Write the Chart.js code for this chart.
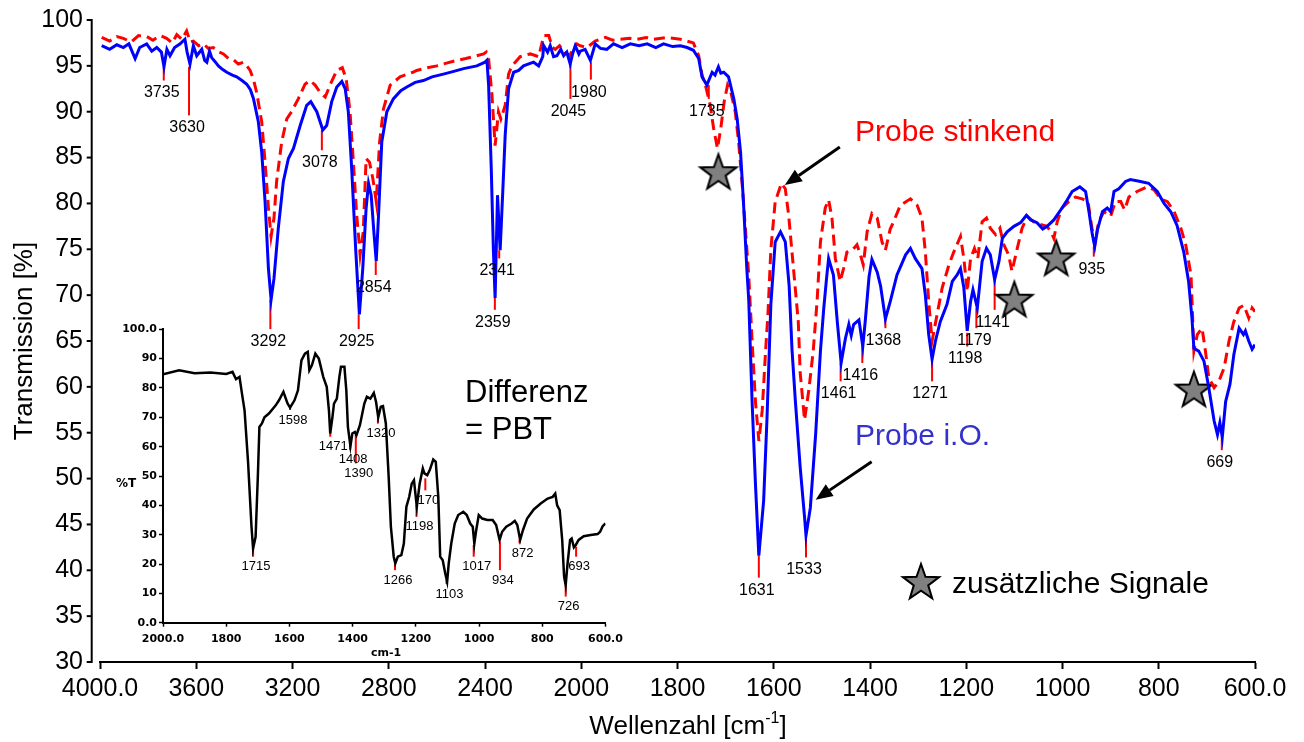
<!DOCTYPE html>
<html>
<head>
<meta charset="utf-8">
<title>IR-Spektren Probe i.O. / Probe stinkend</title>
<script src="https://cdn.jsdelivr.net/npm/chart.js@4.4.1/dist/chart.umd.min.js"></script>
<style>
  html, body { margin: 0; padding: 0; background: #fff; }
  #wrap { position: relative; width: 1304px; height: 742px; }
  #mainChart { position: absolute; left: 0; top: 0; }
  #insetChart { position: absolute; left: 60px; top: 300px; }
</style>
</head>
<body>
<div id="wrap">
  <canvas id="mainChart" width="1304" height="742"></canvas>
  <canvas id="insetChart" width="580" height="370"></canvas>
</div>
<script>
// x axis of the main plot: 4000..2000 at 400 per step, then 2000..600 at 200 per step
const xTickLabels = ["4000.0", "3600", "3200", "2800", "2400", "2000", "1800", "1600", "1400", "1200", "1000", "800", "600.0"];

// Probe i.O. (blue)
const waveBlue = [3993, 3960, 3930, 3903, 3880, 3854, 3835, 3806, 3785, 3764, 3745, 3734, 3722, 3709, 3690, 3667, 3647, 3638, 3626, 3612,
  3598, 3577, 3565, 3556, 3545, 3536, 3520, 3508, 3490, 3473, 3450, 3432, 3410, 3390, 3375, 3362, 3342, 3328, 3314, 3300,
  3289, 3277, 3259, 3238, 3217, 3196, 3168, 3141, 3124, 3099, 3074, 3058, 3037, 3016, 2995, 2981, 2968, 2954, 2937, 2922,
  2908, 2894, 2884, 2873, 2861, 2852, 2843, 2829, 2808, 2781, 2750, 2725, 2690, 2656, 2620, 2573, 2530, 2489, 2434, 2400,
  2392, 2385, 2374, 2365, 2358, 2348, 2337, 2325, 2316, 2302, 2281, 2260, 2240, 2198, 2177, 2160, 2156, 2140, 2129, 2115,
  2101, 2085, 2073, 2060, 2046, 2035, 2025, 2010, 2004, 1992, 1981, 1971, 1960, 1947, 1933, 1915, 1898, 1880, 1863, 1845,
  1829, 1810, 1794, 1780, 1767, 1756, 1749, 1739, 1728, 1722, 1715, 1710, 1704, 1694, 1683, 1676, 1669, 1663, 1656, 1652,
  1645, 1638, 1631, 1621, 1614, 1606, 1597, 1586, 1576, 1568, 1562, 1555, 1545, 1536, 1533, 1524, 1513, 1503, 1496, 1490,
  1486, 1476, 1468, 1460, 1451, 1444, 1439, 1434, 1423, 1415, 1410, 1402, 1396, 1385, 1378, 1368, 1358, 1344, 1326, 1316,
  1306, 1292, 1285, 1278, 1271, 1264, 1254, 1240, 1229, 1219, 1212, 1205, 1198, 1191, 1186, 1177, 1167, 1158, 1150, 1141,
  1132, 1125, 1115, 1101, 1087, 1075, 1066, 1053, 1041, 1032, 1018, 1001, 990, 980, 964, 952, 945, 938, 933, 927,
  917, 907, 900, 893, 883, 869, 859, 838, 821, 803, 789, 775, 762, 748, 738, 731, 727, 717, 706, 696,
  685, 678, 673, 668, 661, 652, 644, 633, 624, 620, 613, 606, 600];
const transBlue = [97.2, 96.8, 97.3, 97.0, 97.4, 95.8, 97.0, 97.4, 96.6, 97.0, 96.5, 94.9, 96.8, 96.1, 97.0, 97.4, 97.9, 96.5, 95.2, 97.2,
  96.1, 96.8, 95.6, 95.4, 96.6, 95.9, 95.4, 95.0, 94.6, 94.3, 94.0, 93.8, 93.4, 93.0, 92.4, 91.4, 88.9, 85.6, 80.2, 72.9,
  69.5, 71.8, 77.3, 82.4, 84.9, 86.0, 88.5, 90.7, 91.1, 90.0, 88.0, 88.5, 91.1, 92.7, 93.3, 92.5, 90.0, 83.8, 74.8, 67.9,
  72.9, 79.5, 82.2, 80.9, 76.6, 73.7, 78.4, 86.7, 90.0, 91.4, 92.3, 92.7, 93.2, 93.4, 93.8, 94.1, 94.4, 94.7, 95.0, 95.4,
  95.6, 92.9, 83.8, 74.8, 69.7, 80.9, 74.9, 82.0, 87.5, 92.5, 94.3, 94.5, 95.0, 95.4, 95.0, 96.0, 97.2, 96.5, 97.2, 96.0,
  96.1, 96.8, 96.1, 96.5, 95.2, 96.4, 97.2, 96.3, 96.6, 96.8, 95.6, 97.4, 96.9, 96.8, 97.4, 97.0, 97.4, 97.2, 97.4, 97.0,
  97.4, 97.1, 97.2, 97.0, 96.7, 95.8, 93.8, 92.9, 94.3, 94.0, 94.9, 94.2, 94.3, 93.8, 91.4, 89.2, 85.6, 80.2, 72.9, 69.5,
  58.4, 49.4, 41.6, 47.6, 56.6, 69.0, 75.8, 76.9, 75.8, 71.0, 64.0, 58.4, 51.2, 45.8, 43.8, 46.8, 54.8, 63.9, 68.6, 72.0,
  74.0, 72.2, 67.1, 62.6, 65.3, 66.8, 65.6, 66.8, 67.3, 64.4, 67.1, 72.0, 73.9, 72.5, 71.0, 67.4, 69.3, 72.2, 74.4, 75.1,
  74.0, 72.9, 70.0, 65.7, 63.0, 65.0, 67.1, 69.0, 71.5, 72.2, 72.9, 70.8, 66.1, 69.3, 70.6, 68.6, 73.7, 75.1, 74.4, 71.7,
  73.7, 76.2, 76.9, 77.5, 77.9, 78.7, 78.2, 77.9, 77.2, 77.5, 78.2, 79.5, 80.4, 81.3, 81.8, 81.3, 79.1, 76.6, 75.3, 77.2,
  79.1, 79.5, 79.1, 81.3, 81.6, 82.4, 82.6, 82.4, 82.2, 81.3, 80.0, 79.1, 77.6, 74.7, 71.5, 67.5, 64.2, 63.9, 62.8, 59.9,
  56.3, 54.8, 56.1, 54.5, 58.4, 60.3, 63.5, 66.4, 65.7, 66.1, 65.0, 64.1, 64.6];

// Probe stinkend (red, dashed)
const waveRed = [3993, 3960, 3930, 3903, 3870, 3840, 3806, 3780, 3750, 3723, 3700, 3681, 3660, 3640, 3625, 3612, 3590, 3570, 3550, 3529,
  3505, 3487, 3466, 3446, 3425, 3404, 3390, 3376, 3362, 3349, 3328, 3314, 3300, 3289, 3277, 3266, 3245, 3224, 3204, 3176,
  3148, 3127, 3106, 3085, 3064, 3044, 3016, 2993, 2977, 2961, 2947, 2933, 2919, 2906, 2894, 2880, 2866, 2852, 2838, 2822,
  2794, 2753, 2700, 2684, 2640, 2600, 2560, 2517, 2480, 2448, 2406, 2395, 2385, 2371, 2358, 2344, 2334, 2316, 2302, 2288,
  2254, 2212, 2177, 2156, 2135, 2120, 2108, 2090, 2073, 2049, 2030, 2018, 2005, 1988, 1971, 1950, 1935, 1919, 1900, 1884,
  1865, 1850, 1822, 1794, 1767, 1756, 1749, 1740, 1732, 1725, 1717, 1710, 1703, 1696, 1689, 1680, 1673, 1666, 1659, 1652,
  1645, 1638, 1631, 1624, 1617, 1612, 1606, 1597, 1584, 1576, 1569, 1559, 1549, 1545, 1536, 1527, 1518, 1510, 1503, 1493,
  1486, 1479, 1472, 1462, 1455, 1448, 1437, 1427, 1420, 1414, 1406, 1396, 1385, 1375, 1368, 1358, 1351, 1337, 1316, 1302,
  1292, 1285, 1278, 1271, 1262, 1250, 1236, 1226, 1212, 1205, 1198, 1191, 1183, 1176, 1167, 1158, 1150, 1139, 1130, 1122,
  1112, 1105, 1094, 1084, 1073, 1060, 1046, 1032, 1023, 1018, 1011, 1001, 987, 973, 959, 947, 940, 933, 925, 914,
  900, 890, 879, 871, 862, 845, 824, 810, 796, 782, 768, 754, 744, 733, 730, 727, 720, 710, 703, 696,
  685, 675, 664, 654, 644, 633, 623, 613, 606, 600];
const transRed = [98.1, 97.7, 98.2, 98.0, 97.6, 98.3, 98.2, 97.8, 98.3, 98.0, 97.5, 98.4, 97.9, 98.8, 97.6, 97.7, 97.2, 97.4, 96.9, 97.0,
  96.5, 96.3, 95.8, 95.7, 95.2, 95.4, 95.0, 94.5, 93.5, 92.1, 88.9, 84.5, 79.5, 76.4, 78.4, 82.4, 86.7, 89.2, 90.0, 91.4,
  93.0, 93.4, 92.9, 92.1, 91.6, 92.9, 94.5, 94.8, 93.6, 90.0, 84.5, 78.7, 74.4, 76.9, 84.9, 84.5, 82.7, 80.2, 86.7, 90.3,
  92.9, 93.8, 94.3, 94.5, 94.8, 95.0, 95.3, 95.6, 95.8, 96.0, 96.3, 96.5, 95.8, 91.8, 86.3, 90.0, 89.2, 90.7, 94.1, 95.0,
  96.0, 96.3, 96.0, 98.3, 98.3, 97.0, 96.8, 97.2, 96.6, 96.1, 97.0, 97.4, 97.2, 97.0, 97.7, 98.1, 97.8, 97.9, 98.0, 97.9,
  98.1, 97.9, 98.1, 97.9, 97.5, 96.1, 94.0, 92.5, 90.7, 88.2, 86.0, 88.2, 91.1, 92.9, 92.1, 90.0, 86.7, 82.4, 77.3, 72.2,
  65.0, 58.4, 54.1, 57.4, 63.9, 68.0, 75.0, 80.2, 82.2, 81.6, 78.7, 72.9, 67.1, 61.5, 56.4, 59.7, 63.9, 69.3, 75.8, 79.5,
  80.4, 78.4, 74.0, 71.5, 72.9, 74.7, 74.9, 75.5, 74.4, 73.3, 76.9, 78.9, 78.4, 75.8, 74.9, 77.2, 78.0, 79.8, 80.5, 79.8,
  78.4, 74.7, 69.3, 65.0, 67.5, 70.8, 73.3, 74.7, 76.4, 74.0, 70.4, 74.0, 75.1, 74.0, 78.0, 78.4, 77.3, 76.6, 77.3, 75.5,
  74.4, 72.6, 75.1, 77.3, 78.6, 78.0, 77.7, 77.5, 76.8, 76.2, 78.0, 79.5, 80.2, 80.7, 80.5, 80.2, 77.7, 75.5, 78.0, 79.1,
  78.6, 80.2, 80.2, 79.3, 80.7, 81.3, 81.8, 81.5, 80.5, 80.2, 79.1, 77.3, 75.5, 72.2, 68.2, 63.9, 65.7, 66.4, 63.9, 61.0,
  59.9, 60.6, 62.1, 65.0, 67.1, 68.6, 68.9, 67.5, 68.6, 68.2];

// peak marks of the main plot (line from top to bottom value, label below)
const mainPeaks = [3735, 3630, 3292, 3078, 2925, 2854, 2359, 2341, 2045, 1980, 1735, 1631, 1533, 1461, 1416, 1368, 1271, 1198, 1179, 1141, 935, 669];
const mainPeakTop = [94.9, 94.9, 69.5, 88.0, 67.9, 73.7, 69.7, 74.9, 95.2, 95.4, 92.9, 41.6, 43.8, 62.6, 64.4, 67.5, 62.8, 65.9, 68.6, 71.7, 75.3, 54.5];
const mainPeakBottom = [93.4, 89.6, 66.3, 85.8, 66.3, 72.2, 68.4, 74.0, 91.4, 93.5, 91.4, 39.2, 41.4, 60.6, 62.6, 66.4, 60.6, 64.4, 66.4, 68.4, 74.2, 53.1];

// additional signals (stars)
const starWave = [1715, 1100, 1013, 727];
const starTrans = [83.4, 69.5, 74.0, 59.7];

// inset: Differenz = PBT
const wavePBT = [2000, 1949, 1900, 1850, 1800, 1780, 1769, 1758, 1750, 1742, 1731, 1720, 1715, 1707, 1700, 1695, 1687, 1679, 1665, 1644,
  1633, 1619, 1606, 1598, 1584, 1573, 1562, 1551, 1542, 1537, 1529, 1518, 1507, 1493, 1482, 1475, 1471, 1464, 1459, 1450,
  1442, 1437, 1426, 1420, 1415, 1407, 1401, 1393, 1388, 1377, 1363, 1355, 1344, 1333, 1326, 1319, 1311, 1304, 1295, 1286,
  1279, 1270, 1265, 1257, 1246, 1238, 1230, 1221, 1213, 1206, 1197, 1188, 1178, 1173, 1164, 1156, 1145, 1137, 1129, 1123,
  1115, 1107, 1101, 1096, 1088, 1077, 1066, 1050, 1039, 1028, 1020, 1015, 1009, 1001, 990, 974, 957, 946, 935, 927,
  914, 897, 887, 879, 870, 861, 848, 827, 805, 783, 767, 759, 753, 745, 737, 731, 726, 720, 712, 707,
  700, 694, 685, 669, 647, 625, 617, 609, 600];
const transPBT = [84.7, 86.0, 85.0, 85.3, 84.8, 85.5, 83.0, 83.8, 78.0, 72.4, 55.0, 32.7, 25.3, 29.3, 49.7, 66.7, 67.9, 70.0, 71.3, 74.0,
  75.8, 78.7, 74.7, 73.3, 75.8, 79.2, 89.4, 91.7, 92.3, 86.0, 87.7, 91.7, 90.0, 83.8, 80.4, 72.4, 64.5, 70.0, 74.7, 76.4,
  83.8, 87.2, 87.2, 79.2, 66.7, 60.2, 64.5, 65.0, 63.9, 67.3, 74.7, 77.0, 76.4, 78.3, 75.3, 70.0, 73.6, 73.8, 67.9, 49.7,
  32.7, 22.5, 20.2, 22.5, 23.0, 27.0, 39.5, 42.9, 47.4, 48.6, 39.5, 47.4, 52.6, 50.9, 50.3, 52.0, 55.6, 54.8, 42.9, 22.5,
  21.3, 16.8, 14.0, 20.2, 27.0, 33.8, 36.7, 37.8, 36.7, 33.8, 32.7, 27.0, 31.6, 36.7, 35.5, 35.0, 35.0, 33.3, 28.2, 31.0,
  32.7, 33.8, 34.7, 33.3, 28.2, 31.6, 35.5, 38.6, 40.6, 42.3, 42.9, 44.0, 40.0, 38.4, 28.2, 15.7, 12.8, 20.2, 28.2, 28.7,
  25.7, 26.5, 28.2, 29.5, 29.9, 30.2, 31.0, 32.9, 33.8];

const insetXTicks = [2000, 1800, 1600, 1400, 1200, 1000, 800, 600];
const insetXTickLabels = ["2000.0", "1800", "1600", "1400", "1200", "1000", "800", "600.0"];
const insetPeaks = [1715, 1598, 1471, 1408, 1390, 1320, 1266, 1198, 1170, 1103, 1017, 934, 872, 726, 693];
const insetPeakTop = [25.4, 74.2, 65.1, 60.6, 64.0, 70.0, 20.2, 40.1, 49.2, 14.6, 26.5, 27.6, 28.4, 12.5, 25.9];
const insetPeakBottom = [22.5, 72.5, 63.4, 58.9, 54.3, 67.9, 17.9, 36.1, 45.1, 13.2, 22.5, 17.9, 27.0, 8.9, 22.5];
const insetPeakLabels = ["1715", "1598", "1471", "1408", "1390", "1320", "1266", "1198", "170", "1103", "1017", "934", "872", "726", "693"];

const FONT = "'Liberation Sans', Arial, sans-serif";
Chart.defaults.font.family = FONT;
Chart.defaults.color = "#000";

// wavenumber -> position on the split x axis
function toPos(w) {
  return w >= 2000 ? (4000 - w) / 400 : 5 + (2000 - w) / 200;
}

function toPoints(waves, values, mapX) {
  return waves.map((w, i) => ({ x: mapX ? mapX(w) : w, y: values[i] }));
}

function starPath(ctx, cx, cy, R, r) {
  ctx.beginPath();
  for (let i = 0; i < 10; i++) {
    let rad = i % 2 == 0 ? R : r;
    let a = -Math.PI / 2 + (i * Math.PI) / 5;
    let px = cx + rad * Math.cos(a);
    let py = cy + rad * Math.sin(a);
    if (i == 0) ctx.moveTo(px, py);
    else ctx.lineTo(px, py);
  }
  ctx.closePath();
}

// star marker used as point style
let starImg = document.createElement("canvas");
starImg.width = 44;
starImg.height = 44;
let sctx = starImg.getContext("2d");
starPath(sctx, 22, 23, 19, 7.6);
sctx.fillStyle = "#808080";
sctx.fill();
sctx.lineWidth = 2;
sctx.lineJoin = "miter";
sctx.strokeStyle = "#000";
sctx.stroke();

function arrow(ctx, x1, y1, x2, y2) {
  let ang = Math.atan2(y2 - y1, x2 - x1);
  let len = 17, half = 7;
  let bx = x2 - len * Math.cos(ang);
  let by = y2 - len * Math.sin(ang);
  ctx.save();
  ctx.strokeStyle = "#000";
  ctx.fillStyle = "#000";
  ctx.lineWidth = 3;
  ctx.beginPath();
  ctx.moveTo(x1, y1);
  ctx.lineTo(bx, by);
  ctx.stroke();
  ctx.beginPath();
  ctx.moveTo(x2, y2);
  ctx.lineTo(bx + half * Math.sin(ang), by - half * Math.cos(ang));
  ctx.lineTo(bx - half * Math.sin(ang), by + half * Math.cos(ang));
  ctx.closePath();
  ctx.fill();
  ctx.restore();
}

const spectrumDecor = {
  id: "spectrumDecor",
  beforeDatasetsDraw(chart) {
    const { ctx, scales: { x, y } } = chart;
    ctx.save();
    ctx.strokeStyle = "#ff0000";
    ctx.lineWidth = 2;
    mainPeaks.forEach((w, i) => {
      let px = x.getPixelForValue(toPos(w));
      ctx.beginPath();
      ctx.moveTo(px, y.getPixelForValue(mainPeakTop[i]));
      ctx.lineTo(px, y.getPixelForValue(mainPeakBottom[i]));
      ctx.stroke();
    });
    ctx.restore();
  },
  afterDraw(chart) {
    const { ctx, scales: { x, y } } = chart;
    ctx.save();

    // y axis sits a bit left of the plot, like in the original
    let ax = 91.7;
    ctx.strokeStyle = "#000";
    ctx.lineWidth = 2;
    ctx.beginPath();
    ctx.moveTo(ax, y.getPixelForValue(100) - 1);
    ctx.lineTo(ax, y.getPixelForValue(30) + 1);
    ctx.stroke();
    y.ticks.forEach((t) => {
      let py = y.getPixelForValue(t.value);
      ctx.beginPath();
      ctx.moveTo(ax - 5, py);
      ctx.lineTo(ax, py);
      ctx.stroke();
    });

    // peak labels
    ctx.fillStyle = "#000";
    ctx.font = "16px " + FONT;
    ctx.textAlign = "center";
    ctx.textBaseline = "middle";
    mainPeaks.forEach((w, i) => {
      let px = x.getPixelForValue(toPos(w));
      let py = y.getPixelForValue(mainPeakBottom[i]);
      ctx.fillText(String(w), px - 2, py + 12.5);
    });

    // axis titles
    ctx.font = "26px " + FONT;
    ctx.save();
    ctx.translate(25, (y.top + y.bottom) / 2);
    ctx.rotate(-Math.PI / 2);
    ctx.fillText("Transmission [%]", 0, 0);
    ctx.restore();

    ctx.textAlign = "left";
    ctx.textBaseline = "alphabetic";
    let t1 = "Wellenzahl [cm", t2 = "-1", t3 = "]";
    ctx.font = "26px " + FONT;
    let w1 = ctx.measureText(t1).width, w3 = ctx.measureText(t3).width;
    ctx.font = "16px " + FONT;
    let w2 = ctx.measureText(t2).width;
    let sx = 688 - (w1 + w2 + w3) / 2;
    ctx.font = "26px " + FONT;
    ctx.fillText(t1, sx, 734);
    ctx.font = "16px " + FONT;
    ctx.fillText(t2, sx + w1, 723);
    ctx.font = "26px " + FONT;
    ctx.fillText(t3, sx + w1 + w2, 734);

    // annotations
    ctx.textBaseline = "middle";
    ctx.font = "30px " + FONT;
    ctx.fillStyle = "#ff0000";
    ctx.fillText("Probe stinkend", 855, 133);
    ctx.fillStyle = "#3333cc";
    ctx.fillText("Probe i.O.", 855, 437);
    ctx.fillStyle = "#000";
    ctx.fillText("zusätzliche Signale", 952, 585);
    ctx.font = "31px " + FONT;
    ctx.fillText("Differenz", 465, 393);
    ctx.fillText("= PBT", 465, 430);

    ctx.drawImage(starImg, 921 - 22, 583 - 23);

    // arrows to the two curves
    let tip1x = x.getPixelForValue(toPos(1577)), tip1y = y.getPixelForValue(82);
    arrow(ctx, tip1x + 55, tip1y - 38, tip1x, tip1y);
    let tip2x = x.getPixelForValue(toPos(1513)), tip2y = y.getPixelForValue(47.7);
    arrow(ctx, tip2x + 56, tip2y - 38, tip2x, tip2y);

    ctx.restore();
  },
};

let mainChart = new Chart(document.getElementById("mainChart"), {
  type: "line",
  data: {
    datasets: [
      {
        label: "Probe i.O.",
        data: toPoints(waveBlue, transBlue, toPos),
        borderColor: "#0000ff",
        borderWidth: 3,
        pointRadius: 0,
        tension: 0,
      },
      {
        label: "Probe stinkend",
        data: toPoints(waveRed, transRed, toPos),
        borderColor: "#ff0000",
        borderWidth: 3,
        borderDash: [11, 6],
        pointRadius: 0,
        tension: 0,
      },
      {
        label: "zusätzliche Signale",
        data: toPoints(starWave, starTrans, toPos),
        showLine: false,
        pointStyle: starImg,
        pointRadius: 19,
      },
    ],
  },
  options: {
    responsive: false,
    animation: false,
    devicePixelRatio: 1,
    layout: { padding: { top: 17.7, right: 49, left: 0, bottom: 0 } },
    plugins: { legend: { display: false }, tooltip: { enabled: false } },
    scales: {
      x: {
        type: "linear",
        min: 0,
        max: 12,
        afterFit: (s) => { s.height = 80; },
        ticks: {
          stepSize: 1,
          autoSkip: false,
          maxRotation: 0,
          padding: 5,
          font: { size: 25 },
          color: "#000",
          callback: (v) => xTickLabels[v],
        },
        grid: { drawOnChartArea: false, tickLength: 7, tickWidth: 2, color: "#000" },
        border: { color: "#000", width: 2 },
      },
      y: {
        min: 30,
        max: 100,
        afterFit: (s) => { s.width = 100; },
        // tick marks are drawn by the plugin; tickLength only spaces the labels
        ticks: { stepSize: 5, padding: 2, font: { size: 25 }, color: "#000" },
        grid: { display: false, drawTicks: true, tickLength: 15 },
        border: { display: false },
      },
    },
  },
  plugins: [spectrumDecor],
});

const insetDecor = {
  id: "insetDecor",
  beforeDatasetsDraw(chart) {
    const { ctx, scales: { x, y } } = chart;
    ctx.save();
    ctx.strokeStyle = "#ff0000";
    ctx.lineWidth = 2;
    insetPeaks.forEach((w, i) => {
      let px = x.getPixelForValue(w);
      ctx.beginPath();
      ctx.moveTo(px, y.getPixelForValue(insetPeakTop[i]));
      ctx.lineTo(px, y.getPixelForValue(insetPeakBottom[i]));
      ctx.stroke();
    });
    ctx.restore();
  },
  afterDraw(chart) {
    const { ctx, scales: { x, y } } = chart;
    ctx.save();
    ctx.fillStyle = "#000";
    ctx.font = "13px " + FONT;
    ctx.textAlign = "center";
    ctx.textBaseline = "middle";
    insetPeaks.forEach((w, i) => {
      let px = x.getPixelForValue(w);
      let py = y.getPixelForValue(insetPeakBottom[i]);
      ctx.fillText(insetPeakLabels[i], px + 3, py + 10);
    });
    ctx.font = "bold 12px 'DejaVu Sans'";
    ctx.fillText("%T", 126 - 60, 484 - 300);
    ctx.font = "bold 11px 'DejaVu Sans'";
    ctx.fillText("cm-1", 386 - 60, 653 - 300);
    ctx.restore();
  },
};

let insetFont = { family: "'DejaVu Sans'", size: 11, weight: "bold" };
let insetChart = new Chart(document.getElementById("insetChart"), {
  type: "line",
  data: {
    datasets: [
      {
        label: "Differenz = PBT",
        data: toPoints(wavePBT, transPBT),
        borderColor: "#000",
        borderWidth: 2.5,
        pointRadius: 0,
        tension: 0,
      },
    ],
  },
  options: {
    responsive: false,
    animation: false,
    devicePixelRatio: 1,
    layout: { padding: { top: 29.3, right: 34.5, left: 0, bottom: 0 } },
    plugins: { legend: { display: false }, tooltip: { enabled: false } },
    scales: {
      x: {
        type: "linear",
        reverse: true,
        min: 600,
        max: 2000,
        afterFit: (s) => { s.height = 47.3; },
        ticks: {
          stepSize: 200,
          autoSkip: false,
          maxRotation: 0,
          padding: 6,
          font: insetFont,
          color: "#000",
          callback: (v) => insetXTickLabels[insetXTicks.indexOf(v)],
        },
        grid: { drawOnChartArea: false, tickLength: 4, tickWidth: 1.5, color: "#000" },
        border: { color: "#000", width: 2 },
      },
      y: {
        min: 0,
        max: 100,
        afterFit: (s) => { s.width = 103; },
        ticks: {
          stepSize: 10,
          padding: 2,
          font: insetFont,
          color: "#000",
          callback: (v) => (v == 0 ? "0.0" : v == 100 ? "100.0" : String(v)),
        },
        grid: { drawOnChartArea: false, tickLength: 4, tickWidth: 1.5, color: "#000" },
        border: { color: "#000", width: 2 },
      },
    },
  },
  plugins: [insetDecor],
});
</script>
</body>
</html>
